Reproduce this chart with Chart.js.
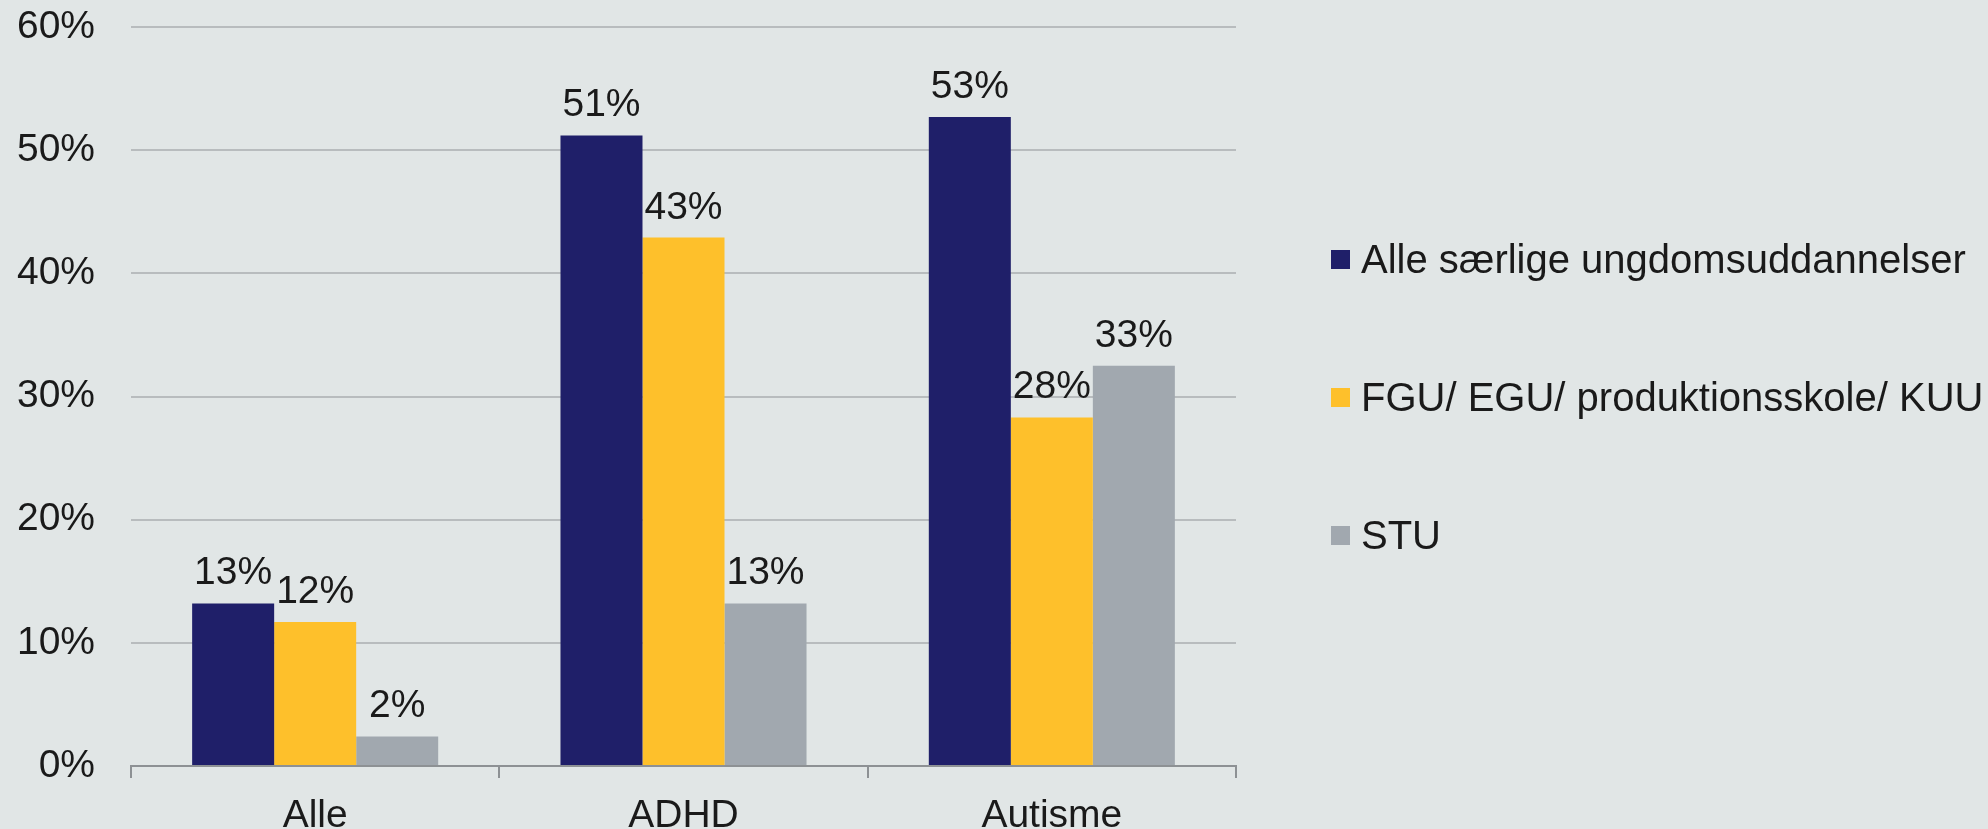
<!DOCTYPE html>
<html lang="da">
<head>
<meta charset="utf-8">
<script src="https://cdn.jsdelivr.net/npm/chart.js@4"></script>
<style>
  html, body { margin: 0; padding: 0; background: #e1e6e6; }
  #wrap { position: relative; width: 1988px; height: 829px; background: #e1e6e6; overflow: hidden; }
  #legend { position: absolute; left: 1331px; top: 236px; font-family: "Liberation Sans", Arial, sans-serif; font-size: 40px; color: #1a1a1a; }
  .lg-row { display: flex; align-items: center; height: 46px; margin-bottom: 92px; white-space: nowrap; }
  .lg-box { width: 19px; height: 19px; margin-right: 11px; flex-shrink: 0; }
</style>
</head>
<body>
<div id="wrap">
  <canvas id="chart"></canvas>
  <div id="legend"></div>
</div>
<script>
// Kategorier og serier (procent)
const categories = ['Alle', 'ADHD', 'Autisme'];
const seriesNames = ['Alle særlige ungdomsuddannelser', 'FGU/ EGU/ produktionsskole/ KUU', 'STU'];
const seriesColors = ['#1f1f69', '#fec02b', '#a1a8af'];
const alleSaerlige = [13.2, 51.2, 52.7];
const fguEguKuu = [11.7, 42.9, 28.3];
const stu = [2.4, 13.2, 32.5];
const yTicks = [0, 10, 20, 30, 40, 50, 60];

const FONT = '"Liberation Sans", Arial, sans-serif';
const seriesValues = [alleSaerlige, fguEguKuu, stu];

// value labels over each bar
const barLabels = {
  id: 'barLabels',
  afterDatasetsDraw(chart) {
    const ctx = chart.ctx;
    ctx.save();
    ctx.font = '39px ' + FONT;
    ctx.fillStyle = '#1a1a1a';
    ctx.textAlign = 'center';
    ctx.textBaseline = 'alphabetic';
    chart.data.datasets.forEach((ds, i) => {
      chart.getDatasetMeta(i).data.forEach((bar, j) => {
        ctx.fillText(Math.round(ds.data[j]) + '%', bar.x, bar.y - 19);
      });
    });
    ctx.restore();
  }
};

new Chart(document.getElementById('chart'), {
  type: 'bar',
  data: {
    labels: categories,
    datasets: seriesNames.map((name, i) => ({
      label: name,
      data: seriesValues[i],
      backgroundColor: seriesColors[i],
      borderWidth: 0,
      categoryPercentage: 0.668,
      barPercentage: 1.0,
    })),
  },
  options: {
    responsive: true,
    maintainAspectRatio: false,
    animation: false,
    layout: { padding: { left: 17, right: 752, top: 27, bottom: 0 } },
    plugins: { legend: { display: false }, tooltip: { enabled: false } },
    scales: {
      x: {
        offset: true,
        afterFit: a => { a.height = 63; a.paddingLeft = 0; a.paddingRight = 0; },
        grid: { display: true, offset: true, drawOnChartArea: false, drawTicks: true, tickLength: 12, color: '#8d9194', lineWidth: 2 },
        border: { display: true, color: '#8d9194', width: 2 },
        ticks: { color: '#1a1a1a', font: { family: FONT, size: 39, lineHeight: 1.0 }, padding: 19 },
      },
      y: {
        min: 0,
        max: 60,
        afterBuildTicks: axis => { axis.ticks = yTicks.map(v => ({ value: v })); },
        afterFit: a => { a.width = 114; a.paddingTop = 0; a.paddingBottom = 0; },
        grid: { color: '#b8bcbe', lineWidth: 2, drawTicks: false },
        border: { display: false },
        ticks: { color: '#1a1a1a', font: { family: FONT, size: 39 }, padding: 36, callback: v => v + '%' },
      },
    },
  },
  plugins: [barLabels],
});

document.getElementById('legend').innerHTML = seriesNames.map((n, i) =>
  `<div class="lg-row"><span class="lg-box" style="background:${seriesColors[i]}"></span>${n}</div>`
).join('');
</script>
</body>
</html>
